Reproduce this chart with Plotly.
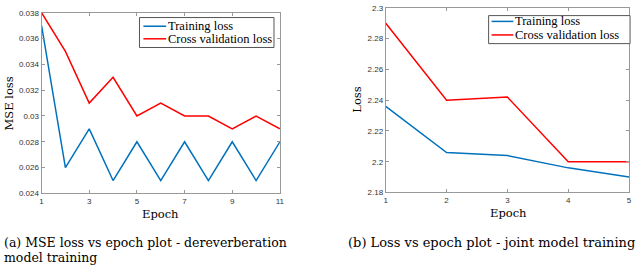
import plotly.graph_objects as go

# Left panel data (dereverberation)
epochs_a = [1, 2, 3, 4, 5, 6, 7, 8, 9, 10, 11]
train_a = [0.037, 0.026, 0.029, 0.025, 0.028, 0.025, 0.028, 0.025, 0.028, 0.025, 0.028]
val_a = [0.038, 0.035, 0.031, 0.033, 0.030, 0.031, 0.030, 0.030, 0.029, 0.030, 0.029]
xt_a = [1, 3, 5, 7, 9, 11]
yt_a = [0.024, 0.026, 0.028, 0.030, 0.032, 0.034, 0.036, 0.038]
ytl_a = ["0.024", "0.026", "0.028", "0.03", "0.032", "0.034", "0.036", "0.038"]

# Right panel data (joint model)
epochs_b = [1, 2, 3, 4, 5]
train_b = [2.236, 2.206, 2.204, 2.196, 2.190]
val_b = [2.290, 2.240, 2.242, 2.200, 2.200]
yt_b = [2.18, 2.20, 2.22, 2.24, 2.26, 2.28, 2.30]
ytl_b = ["2.18", "2.2", "2.22", "2.24", "2.26", "2.28", "2.3"]

series_names = ["Training loss", "Cross validation loss"]

BLUE = "#0072BD"
RED = "#FF0000"
SERIF = "DejaVu Serif"
LSERIF = "Liberation Serif"
SANS = "Liberation Sans"
W, H = 640, 269

def px(x):
    return x / W

def py(y):
    return 1 - y / H

fig = go.Figure()
fig.add_trace(go.Scatter(x=epochs_a, y=train_a, mode="lines", name=series_names[0],
                         line=dict(color=BLUE, width=1.5), xaxis="x", yaxis="y"))
fig.add_trace(go.Scatter(x=epochs_a, y=val_a, mode="lines", name=series_names[1],
                         line=dict(color=RED, width=1.5), xaxis="x", yaxis="y"))
fig.add_trace(go.Scatter(x=epochs_b, y=train_b, mode="lines", name=series_names[0],
                         line=dict(color=BLUE, width=1.5), xaxis="x2", yaxis="y2"))
fig.add_trace(go.Scatter(x=epochs_b, y=val_b, mode="lines", name=series_names[1],
                         line=dict(color=RED, width=1.5), xaxis="x2", yaxis="y2"))

axis_common = dict(showgrid=False, zeroline=False, showline=True, linecolor="#999999",
                   linewidth=1, mirror="ticks", ticks="inside", ticklen=3, tickcolor="#999999",
                   tickfont=dict(family=SANS, size=8, color="#333333"))

fig.update_layout(
    width=W, height=H,
    margin=dict(l=0, r=0, t=0, b=0),
    font=dict(family=SERIF, size=12, color="black"),
    paper_bgcolor="white", plot_bgcolor="white",
    showlegend=False,
    xaxis=dict(domain=[px(40), px(281)], range=[1, 11], tickvals=xt_a, anchor="y", **axis_common),
    yaxis=dict(domain=[py(196), py(9)], range=[0.024, 0.038], tickvals=yt_a, ticktext=ytl_a,
               anchor="x", **axis_common),
    xaxis2=dict(domain=[px(388), px(634)], range=[1, 5], tickvals=epochs_b, anchor="y2", **axis_common),
    yaxis2=dict(domain=[py(195), py(4)], range=[2.18, 2.30], tickvals=yt_b, ticktext=ytl_b,
                anchor="x2", **axis_common),
)

# Manual legends (box, line samples, labels) in paper coordinates
legends = [
    dict(box=(139, 14, 275, 45), lx=(143, 166), ys=(23, 36), tx=167),
    dict(box=(492, 12, 635, 41), lx=(495, 517), ys=(18, 32), tx=518),
]
colors = [BLUE, RED]
for lg in legends:
    x0, y0, x1, y1 = lg["box"]
    fig.add_shape(type="rect", xref="paper", yref="paper",
                  x0=px(x0), x1=px(x1), y0=py(y1), y1=py(y0),
                  line=dict(color="#555555", width=1), fillcolor="white", layer="above")
    for name, c, yy in zip(series_names, colors, lg["ys"]):
        fig.add_shape(type="line", xref="paper", yref="paper",
                      x0=px(lg["lx"][0]), x1=px(lg["lx"][1]), y0=py(yy), y1=py(yy),
                      line=dict(color=c, width=1.5), layer="above")
        fig.add_annotation(xref="paper", yref="paper", showarrow=False, text=name,
                           x=px(lg["tx"]), y=py(yy), xanchor="left", yanchor="middle",
                           borderpad=0,
                           font=dict(family=LSERIF, size=12.5, color="black"))

ann = [
    dict(text="MSE loss", x=px(7), y=py(103), textangle=-90),
    dict(text="Epoch", x=px(160), y=py(217)),
    dict(text="Loss", x=px(359), y=py(99), textangle=-90),
    dict(text="Epoch", x=px(512), y=py(216)),
]
for a in ann:
    fig.add_annotation(xref="paper", yref="paper", showarrow=False,
                       font=dict(family=SERIF, size=11.5, color="black"),
                       xanchor="center", yanchor="middle", **a)

fig.add_annotation(xref="paper", yref="paper", showarrow=False, x=0, y=py(247),
                   xanchor="left", yanchor="middle",
                   text="(a) MSE loss vs epoch plot - dereverberation",
                   font=dict(family=SERIF, size=12.5, color="black"))
fig.add_annotation(xref="paper", yref="paper", showarrow=False, x=0, y=py(262),
                   xanchor="left", yanchor="middle", text="model training",
                   font=dict(family=SERIF, size=12.5, color="black"))
fig.add_annotation(xref="paper", yref="paper", showarrow=False, x=px(494.5), y=py(247),
                   xanchor="center", yanchor="middle",
                   text="(b) Loss vs epoch plot - joint model training",
                   font=dict(family=SERIF, size=13, color="black"))

fig.write_html("out.html", config={"displayModeBar": False},
               post_script="document.body.style.margin='0';")
